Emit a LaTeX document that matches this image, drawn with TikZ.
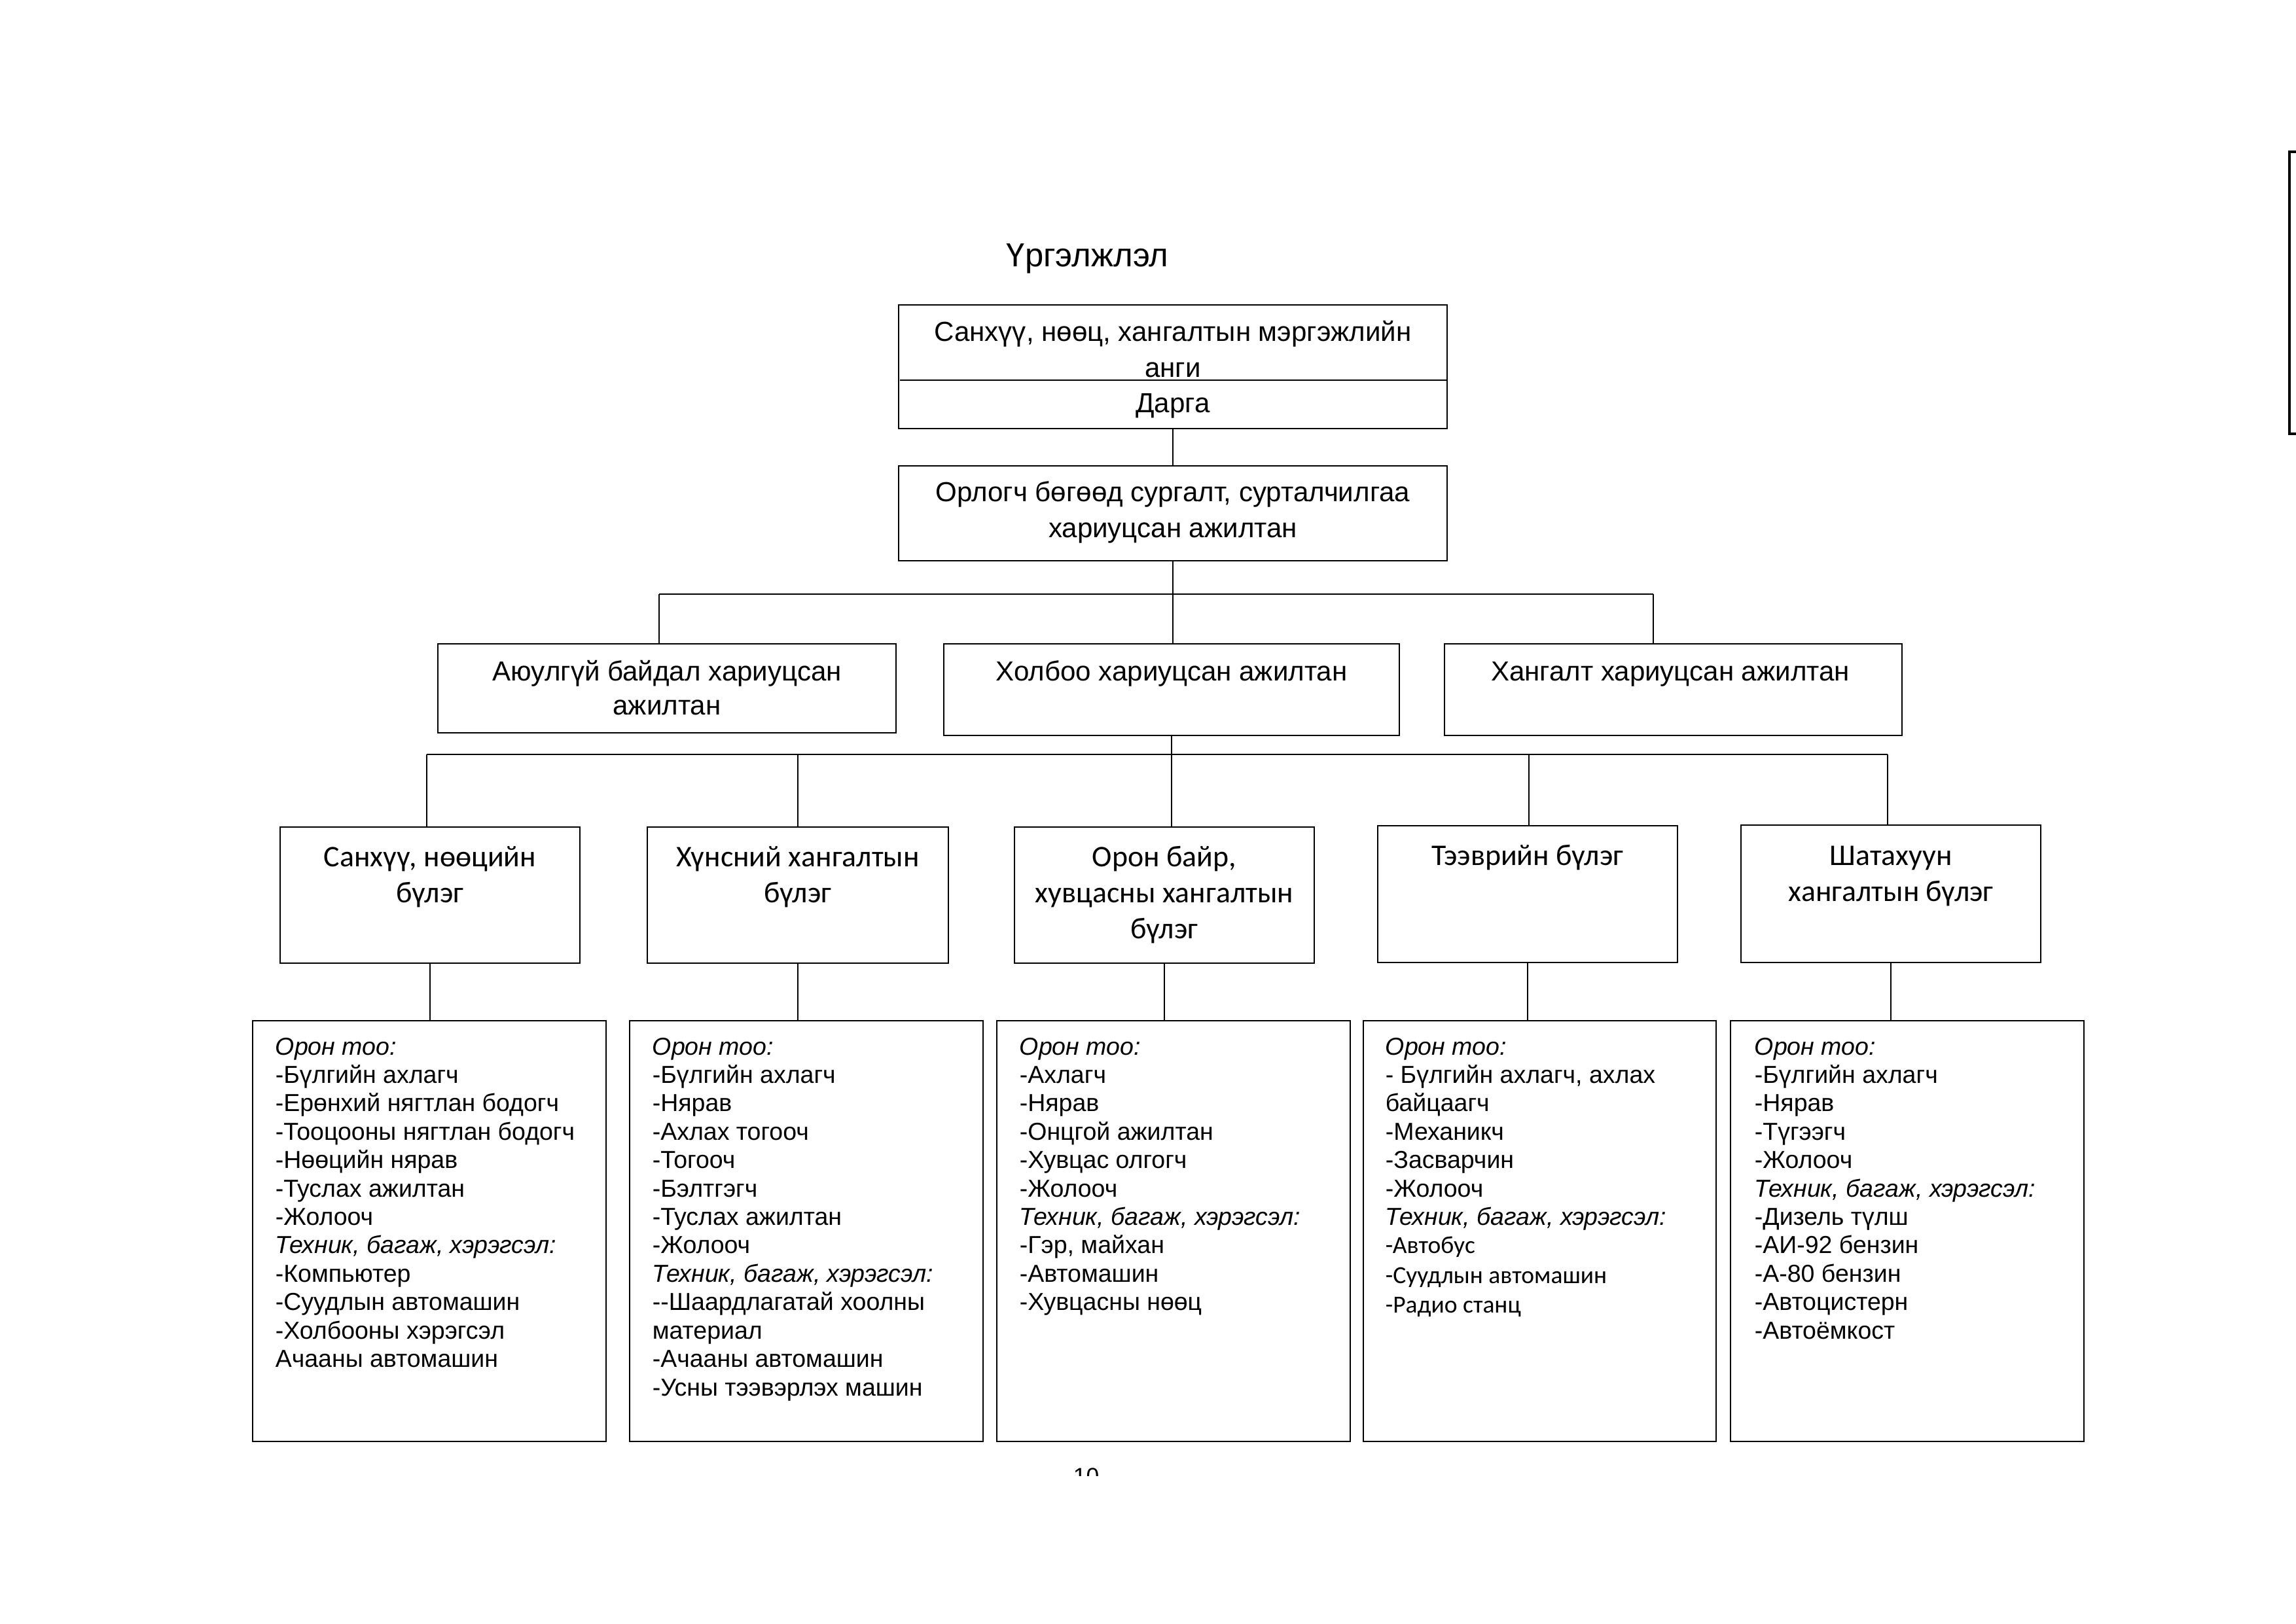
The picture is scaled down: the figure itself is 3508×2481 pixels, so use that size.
\documentclass[tikz,border=0pt]{standalone}
\usepackage{fontspec}
\setmainfont{Liberation Sans}
\newfontfamily\calfont{Carlito}
\newcommand\bx[5]{\node[boxst, minimum width={(#4-#2)*0.24pt}, minimum height={(#5-#3)*0.24pt}] (#1) at ({(#2+#4)/2},{(#3+#5)/2}) {};}
\begin{document}
\begin{tikzpicture}[x=0.24pt, y=-0.24pt,
  boxst/.style={draw, line width=0.55pt, inner sep=0pt, fill=none},
  conn/.style={line width=0.5pt},
  bus/.style={line width=0.55pt},
  ctxt/.style={anchor=base, inner sep=0pt},
  ltxt/.style={anchor=base west, inner sep=0pt}]
\useasboundingbox[fill=white] (0,0) rectangle (3508,2481);

% title
\node[ltxt, font=\fontsize{12.2}{14}\selectfont] (title) at (1537,407) {Үргэлжлэл};

% boxes
\bx{top}{1373}{466}{2211}{655}
\bx{dep}{1373}{712}{2211}{857}
\bx{s1}{669}{984}{1369}{1120}
\bx{s2}{1442}{984}{2138}{1124}
\bx{s3}{2207}{984}{2906}{1124}
\bx{dA}{428}{1264}{886}{1472}
\bx{dB}{989}{1264}{1449}{1472}
\bx{dC}{1550}{1264}{2008}{1472}
\bx{dD}{2105}{1262}{2563}{1471}
\bx{dE}{2660}{1261}{3118}{1471}
\bx{L1}{386}{1560}{926}{2203}
\bx{L2}{962}{1560}{1502}{2203}
\bx{L3}{1523}{1560}{2063}{2203}
\bx{L4}{2083}{1560}{2622}{2203}
\bx{L5}{2644}{1560}{3184}{2203}

% divider in top box
\coordinate (divL) at (1375,581);
\draw[line width=0.55pt] (divL) -- (divL -| top.east);

% texts of upper boxes
\node[ctxt] (topT) at (1792,521) {\parbox[t]{200pt}{\centering\fontsize{10.1}{13.2}\selectfont Санхүү, нөөц, хангалтын мэргэжлийн\\ анги}};
\node[ctxt, font=\fontsize{10.1}{13.2}\selectfont] (topD) at (1792,630) {Дарга};
\node[ctxt] (depT) at (1792,766) {\parbox[t]{200pt}{\centering\fontsize{10.1}{13.2}\selectfont Орлогч бөгөөд сургалт, сурталчилгаа\\ хариуцсан ажилтан}};
\node[ctxt] (s1T) at (1019,1040) {\parbox[t]{165pt}{\centering\fontsize{10.1}{12.7}\selectfont Аюулгүй байдал хариуцсан\\ ажилтан}};
\node[ctxt, font=\fontsize{10.1}{12.7}\selectfont] (s2T) at (1790,1040) {Холбоо хариуцсан ажилтан};
\node[ctxt, font=\fontsize{10.1}{12.7}\selectfont] (s3T) at (2552,1040) {Хангалт хариуцсан ажилтан};

% department texts
\node[ctxt] (dAT) at (657,1324) {\parbox[t]{108pt}{\centering\calfont\fontsize{11}{13.4}\selectfont Санхүү, нөөцийн\\ бүлэг}};
\node[ctxt] (dBT) at (1219,1324) {\parbox[t]{108pt}{\centering\calfont\fontsize{11}{13.4}\selectfont Хүнсний хангалтын\\ бүлэг}};
\node[ctxt] (dCT) at (1779,1324) {\parbox[t]{108pt}{\centering\calfont\fontsize{11}{13.2}\selectfont Орон байр,\\ хувцасны хангалтын\\ бүлэг}};
\node[ctxt, font=\calfont\fontsize{11}{13.4}\selectfont] (dDT) at (2334,1322) {Тээврийн бүлэг};
\node[ctxt] (dET) at (2889,1322) {\parbox[t]{108pt}{\centering\calfont\fontsize{11}{13.4}\selectfont Шатахуун\\ хангалтын бүлэг}};

% list texts
\node[ltxt] (L1T) at (420,1612) {\parbox[t]{125pt}{\raggedright\fontsize{9}{10.42}\selectfont
\textit{Орон тоо:}\\ -Бүлгийн ахлагч\\ -Ерөнхий нягтлан бодогч\\ -Тооцооны нягтлан бодогч\\ -Нөөцийн нярав\\ -Туслах ажилтан\\ -Жолооч\\ \textit{Техник, багаж, хэрэгсэл:}\\ -Компьютер\\ -Суудлын автомашин\\ -Холбооны хэрэгсэл\\ Ачааны автомашин}};
\node[ltxt] (L2T) at (996,1612) {\parbox[t]{125pt}{\raggedright\fontsize{9}{10.42}\selectfont
\textit{Орон тоо:}\\ -Бүлгийн ахлагч\\ -Нярав\\ -Ахлах тогооч\\ -Тогооч\\ -Бэлтгэгч\\ -Туслах ажилтан\\ -Жолооч\\ \textit{Техник, багаж, хэрэгсэл:}\\ -{}-Шаардлагатай хоолны\\ материал\\ -Ачааны автомашин\\ -Усны тээвэрлэх машин}};
\node[ltxt] (L3T) at (1557,1612) {\parbox[t]{125pt}{\raggedright\fontsize{9}{10.42}\selectfont
\textit{Орон тоо:}\\ -Ахлагч\\ -Нярав\\ -Онцгой ажилтан\\ -Хувцас олгогч\\ -Жолооч\\ \textit{Техник, багаж, хэрэгсэл:}\\ -Гэр, майхан\\ -Автомашин\\ -Хувцасны нөөц}};
\node[ltxt] (L4T) at (2116,1612) {\parbox[t]{125pt}{\raggedright\fontsize{9}{10.42}\selectfont
\textit{Орон тоо:}\\ - Бүлгийн ахлагч, ахлах\\ байцаагч\\ -Механикч\\ -Засварчин\\ -Жолооч\\ \textit{Техник, багаж, хэрэгсэл:}\\ {\calfont -Автобус}\\[0.6pt] {\calfont -Суудлын автомашин}\\[0.4pt] {\calfont -Радио станц}}};
\node[ltxt] (L5T) at (2680,1612) {\parbox[t]{125pt}{\raggedright\fontsize{9}{10.42}\selectfont
\textit{Орон тоо:}\\ -Бүлгийн ахлагч\\ -Нярав\\ -Түгээгч\\ -Жолооч\\ \textit{Техник, багаж, хэрэгсэл:}\\ -Дизель түлш\\ -АИ-92 бензин\\ -А-80 бензин\\ -Автоцистерн\\ -Автоёмкост}};

% connectors
\draw[conn] (top.south) -- (dep.north);
\coordinate (j1L) at (1007,908);
\coordinate (j1R) at (2526,908);
\draw[bus] (j1L) -- (j1R);
\draw[conn] (dep.south) -- (dep.south |- s2.north);
\draw[conn] (j1L) -- (j1L |- s1.north);
\draw[conn] (j1R) -- (j1R |- s3.north);

\coordinate (j2L) at (652,1153);
\coordinate (j2B) at (1219,1153);
\coordinate (j2D) at (2336,1153);
\coordinate (j2R) at (2884,1153);
\draw[bus] (j2L) -- (j2R);
\draw[conn] (s2.south) -- (s2.south |- dC.north);
\draw[conn] (j2L) -- (j2L |- dA.north);
\draw[conn] (j2B) -- (j2B |- dB.north);
\draw[conn] (j2D) -- (j2D |- dD.north);
\draw[conn] (j2R) -- (j2R |- dE.north);

\draw[conn] (dA.south) -- (dA.south |- L1.north);
\draw[conn] (dB.south) -- (dB.south |- L2.north);
\draw[conn] (dC.south) -- (dC.south |- L3.north);
\draw[conn] (dD.south) -- (dD.south |- L4.north);
\draw[conn] (dE.south) -- (dE.south |- L5.north);

% page number (cut off)
\begin{scope}
\clip (1600,2230) rectangle (1720,2255);
\node[ltxt, font=\fontsize{8.5}{10}\selectfont] (pnum) at (1639,2268) {10};
\end{scope}

% right edge frame
\draw[line width=0.8pt] (3508,232) -- (3498,232) -- (3498,663) -- (3508,663);
\end{tikzpicture}
\end{document}
